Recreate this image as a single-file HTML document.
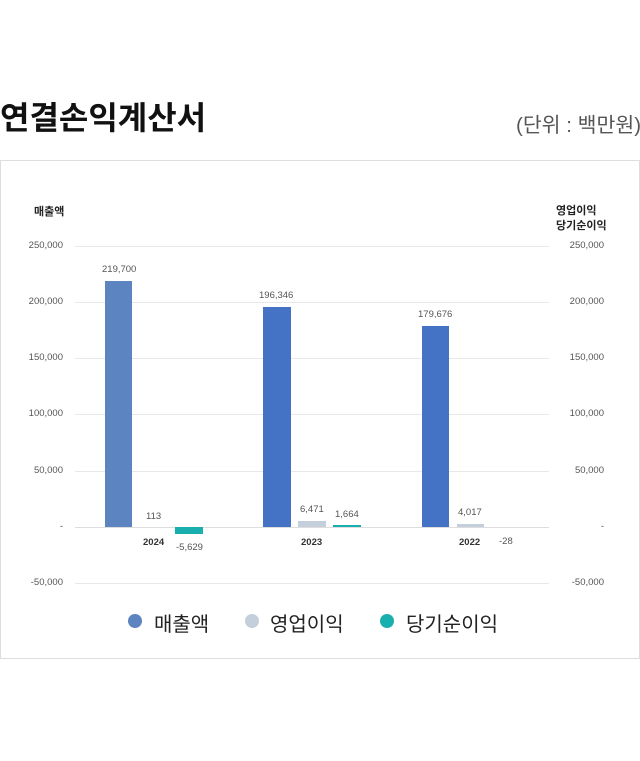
<!DOCTYPE html><html><head><meta charset="utf-8"><style>
body{margin:0;width:640px;height:761px;background:#fff;font-family:"Liberation Sans","Noto Sans CJK KR",sans-serif;position:relative;overflow:hidden}
.a{position:absolute;white-space:nowrap}
.t{font-size:9.5px;color:#555}
.g{position:absolute;left:75px;width:474px;height:1px;background:#e8e8e8}
.b{position:absolute}
</style></head><body>
<div class="a" style="left:0;top:93px;font-size:32px;font-weight:bold;color:#111;letter-spacing:0px">연결손익계산서</div>
<div class="a" style="left:516px;top:108px;font-size:20.5px;color:#555">(단위 : 백만원)</div>
<div class="a" style="left:0;top:160px;width:638px;height:497px;border:1px solid #ddd"></div>
<div class="a" style="left:34px;top:203px;font-size:11px;font-weight:bold;color:#222">매출액</div>
<div class="a" style="left:556px;top:204px;font-size:11px;font-weight:bold;color:#222;line-height:15px">영업이익<br>당기순이익</div>
<div class="g" style="top:246px"></div><div class="g" style="top:302px"></div><div class="g" style="top:358px"></div><div class="g" style="top:414px"></div><div class="g" style="top:471px"></div><div class="g" style="top:527px;background:#ddd"></div><div class="g" style="top:583px"></div>
<div class="a t" style="right:577px;top:240px">250,000</div><div class="a t" style="right:577px;top:296px">200,000</div><div class="a t" style="right:577px;top:352px">150,000</div><div class="a t" style="right:577px;top:408px">100,000</div><div class="a t" style="right:577px;top:465px">50,000</div><div class="a t" style="right:577px;top:521px">-</div><div class="a t" style="right:577px;top:577px">-50,000</div>
<div class="a t" style="right:36px;top:240px">250,000</div><div class="a t" style="right:36px;top:296px">200,000</div><div class="a t" style="right:36px;top:352px">150,000</div><div class="a t" style="right:36px;top:408px">100,000</div><div class="a t" style="right:36px;top:465px">50,000</div><div class="a t" style="right:36px;top:521px">-</div><div class="a t" style="right:36px;top:577px">-50,000</div>
<div class="b" style="left:105px;top:281px;width:27px;height:246px;background:#5b84c0"></div>
<div class="b" style="left:263px;top:307px;width:28px;height:220px;background:#4472c4"></div>
<div class="b" style="left:422px;top:326px;width:27px;height:201px;background:#4472c4"></div>
<div class="b" style="left:298px;top:521px;width:28px;height:6px;background:#c5cfdc"></div>
<div class="b" style="left:457px;top:524px;width:27px;height:3px;background:#c5cfdc"></div>
<div class="b" style="left:175px;top:527px;width:28px;height:7px;background:#1aafaf"></div>
<div class="b" style="left:333px;top:525px;width:28px;height:2px;background:#1aafaf"></div>
<div class="a t" style="left:102px;top:264px">219,700</div>
<div class="a t" style="left:259px;top:290px">196,346</div>
<div class="a t" style="left:418px;top:309px">179,676</div>
<div class="a t" style="left:146px;top:511px">113</div>
<div class="a t" style="left:300px;top:504px">6,471</div>
<div class="a t" style="left:335px;top:509px">1,664</div>
<div class="a t" style="left:458px;top:507px">4,017</div>
<div class="a t" style="left:176px;top:542px">-5,629</div>
<div class="a t" style="left:499px;top:536px">-28</div>
<div class="a" style="left:143px;top:537px;font-size:9.5px;font-weight:bold;color:#333">2024</div>
<div class="a" style="left:301px;top:537px;font-size:9.5px;font-weight:bold;color:#333">2023</div>
<div class="a" style="left:459px;top:537px;font-size:9.5px;font-weight:bold;color:#333">2022</div>
<div class="a" style="left:1px;top:591px;width:638px;height:66px;background:#fff"></div>
<div class="a" style="left:128px;top:614px;width:14px;height:14px;border-radius:50%;background:#5b84c0"></div>
<div class="a" style="left:154px;top:608px;font-size:20px;color:#222">매출액</div>
<div class="a" style="left:245px;top:614px;width:14px;height:14px;border-radius:50%;background:#c5cfdc"></div>
<div class="a" style="left:270px;top:608px;font-size:20px;color:#222">영업이익</div>
<div class="a" style="left:380px;top:614px;width:14px;height:14px;border-radius:50%;background:#1aafaf"></div>
<div class="a" style="left:406px;top:608px;font-size:20px;color:#222">당기순이익</div>
</body></html>
